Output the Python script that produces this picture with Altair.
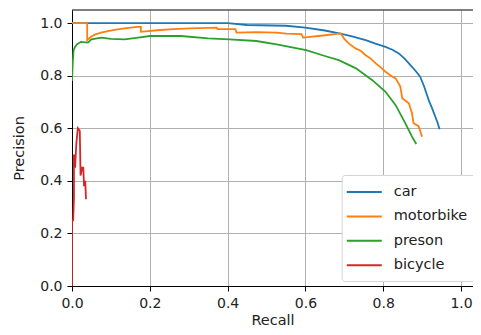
import altair as alt
import pandas as pd

names = ["car", "motorbike", "preson", "bicycle"]
colors = ["#1f77b4", "#ff7f0e", "#2ca02c", "#d62728"]

car_recall = [0.0, 0.40, 0.45, 0.55, 0.60, 0.65, 0.69, 0.72, 0.755, 0.78, 0.806, 0.825, 0.84, 0.855, 0.874, 0.885, 0.895, 0.905, 0.917, 0.926, 0.934, 0.94, 0.945]
car_precision = [1.0, 1.0, 0.993, 0.99, 0.983, 0.972, 0.96, 0.95, 0.935, 0.922, 0.91, 0.898, 0.885, 0.865, 0.834, 0.815, 0.796, 0.76, 0.707, 0.675, 0.644, 0.62, 0.596]

moto_recall = [0.0, 0.039, 0.039, 0.049, 0.06, 0.075, 0.095, 0.117, 0.14, 0.168, 0.177, 0.177, 0.219, 0.26, 0.304, 0.372, 0.374, 0.42, 0.423, 0.474, 0.526, 0.551, 0.59, 0.594, 0.64, 0.691, 0.70, 0.712, 0.73, 0.742, 0.755, 0.768, 0.781, 0.795, 0.806, 0.82, 0.832, 0.844, 0.849, 0.866, 0.874, 0.878, 0.891, 0.9]
moto_precision = [1.0, 1.0, 0.935, 0.948, 0.957, 0.964, 0.971, 0.976, 0.981, 0.986, 0.986, 0.967, 0.973, 0.977, 0.98, 0.983, 0.977, 0.977, 0.964, 0.966, 0.964, 0.96, 0.958, 0.945, 0.952, 0.961, 0.94, 0.922, 0.903, 0.895, 0.878, 0.865, 0.847, 0.83, 0.815, 0.8, 0.79, 0.759, 0.714, 0.695, 0.657, 0.619, 0.608, 0.568]

person_recall = [0.0, 0.002, 0.004, 0.008, 0.013, 0.023, 0.041, 0.05, 0.075, 0.10, 0.135, 0.17, 0.2, 0.28, 0.35, 0.405, 0.474, 0.526, 0.602, 0.65, 0.686, 0.73, 0.772, 0.806, 0.832, 0.857, 0.874, 0.885]
person_precision = [0.78, 0.85, 0.897, 0.91, 0.92, 0.929, 0.926, 0.938, 0.945, 0.94, 0.938, 0.945, 0.951, 0.951, 0.942, 0.938, 0.932, 0.919, 0.897, 0.875, 0.859, 0.828, 0.783, 0.739, 0.688, 0.619, 0.568, 0.54]

bike_recall = [0.0, 0.0, 0.003, 0.005, 0.005, 0.008, 0.011, 0.015, 0.02, 0.022, 0.026, 0.029, 0.031, 0.034, 0.036]
bike_precision = [0.0, 0.25, 0.25, 0.34, 0.50, 0.45, 0.54, 0.60, 0.59, 0.42, 0.45, 0.45, 0.38, 0.40, 0.33]

x_ticks = [0.0, 0.2, 0.4, 0.6, 0.8, 1.0]
y_ticks = [0.0, 0.2, 0.4, 0.6, 0.8, 1.0]

rows = []
for name, rs, ps in zip(names,
                        [car_recall, moto_recall, person_recall, bike_recall],
                        [car_precision, moto_precision, person_precision, bike_precision]):
    for i, (r, p) in enumerate(zip(rs, ps)):
        rows.append({"series": name, "i": i, "recall": r, "precision": p})
df = pd.DataFrame(rows)

FONT = "DejaVu Sans"
TXT = "#222222"
LEFT = 64
W, H = 401, 276
PX_PER_UNIT = 389

color = alt.Color(
    "series:N",
    scale=alt.Scale(domain=names, range=colors),
    legend=alt.Legend(
        orient="none", legendX=269.7, legendY=165, title=None,
        padding=9, rowPadding=9.4,
        symbolType="M-1.7,0H3.3", symbolSize=196, symbolStrokeWidth=2,
        labelFontSize=14.5, labelFont=FONT, labelColor=TXT, labelOffset=27,
        labelLimit=200,
        strokeColor="#d5d5d5", fillColor="white", cornerRadius=3,
    ),
)

xenc = alt.X(
    "recall:Q",
    scale=alt.Scale(domain=[0, W / PX_PER_UNIT], nice=False, zero=False),
    axis=alt.Axis(values=x_ticks, format=".1f", title="Recall", labelFlush=False,
                  tickSize=5, labelPadding=5, titlePadding=3),
)
yenc = alt.Y(
    "precision:Q",
    scale=alt.Scale(domain=[0, 1.05], nice=False, zero=False),
    axis=alt.Axis(values=y_ticks, format=".1f", title="Precision", labelFlush=False,
                  tickSize=5, labelPadding=5, titlePadding=13),
)

layers = []
for name in names:
    layers.append(
        alt.Chart(df)
        .transform_filter(alt.datum.series == name)
        .mark_line(strokeWidth=1.8, clip=True)
        .encode(x=xenc, y=yenc, color=color, order=alt.Order("i:Q"))
    )

top_rule = alt.Chart(pd.DataFrame({"a": [0]})).mark_rule(color="black", strokeWidth=1).encode(
    x=alt.value(0), x2=alt.value(W), y=alt.value(0)
)

chart = (
    alt.layer(*layers, top_rule)
    .properties(
        width=W, height=H,
        autosize=alt.AutoSizeParams(type="none"),
        padding={"left": LEFT, "top": 2, "right": 0, "bottom": 41},
    )
    .configure_view(stroke=None)
    .configure_axis(
        grid=True, gridColor="#b0b0b0", gridWidth=1,
        domainColor="black", domainWidth=1, tickColor="black", tickWidth=1,
        labelFont=FONT, labelFontSize=14, labelColor=TXT,
        titleFont=FONT, titleFontSize=14.5, titleColor=TXT, titleFontWeight="normal",
    )
)

chart.save("out.html", embed_options={"renderer": "svg", "actions": False})
